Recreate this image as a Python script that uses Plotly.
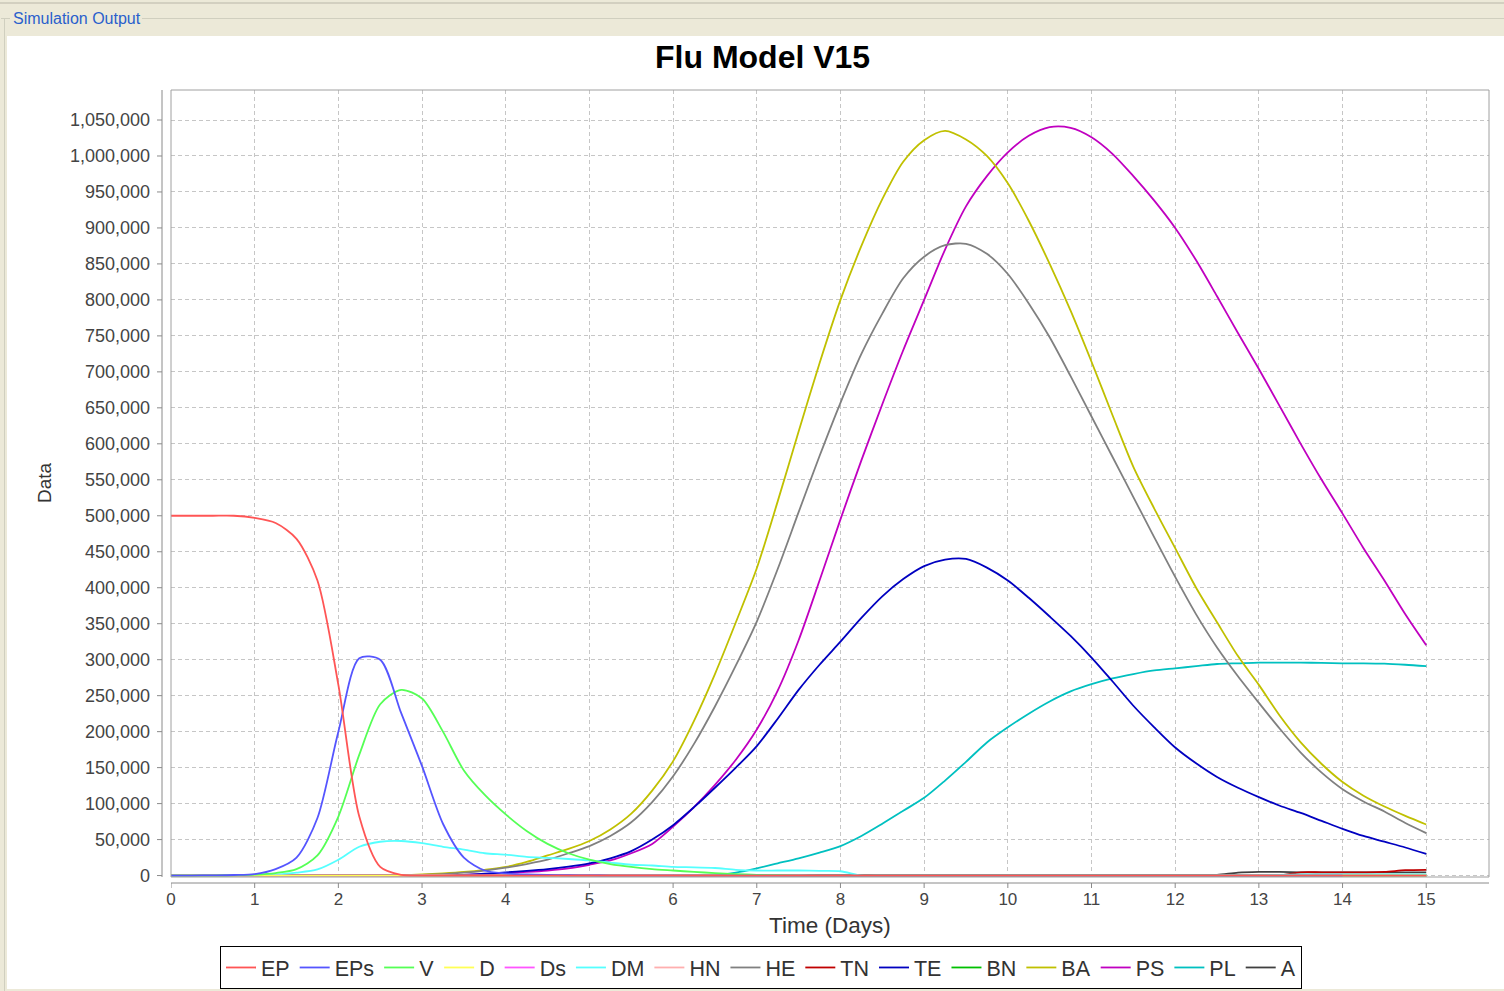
import plotly.graph_objects as go

# Simulation output sampled every quarter day (days 0..15)
time_days = [round(0.25 * i, 2) for i in range(61)]

# Values per series, one row per day (t = d, d+0.25, d+0.5, d+0.75), last entry is day 15
EP = [500000, 500000, 500000, 500000,
      497000, 490000, 468000, 410000,
      265000, 82000, 12000, 1000,
      0, 0, 0, 0,  0, 0, 0, 0,  0, 0, 0, 0,  0, 0, 0, 0,
      0, 0, 0, 0,  0, 0, 0, 0,  0, 0, 0, 0,  0, 0, 0, 0,
      0, 0, 0, 0,  0, 0, 0, 0,  0, 0, 0, 0,  0, 0, 0, 0,
      0]
EPs = [0, 0, 300, 800,
       2000, 9000, 25000, 80000,
       200000, 302000, 300000, 226000,
       152000, 72000, 25000, 7000,
       3000, 1500, 800, 400,
       200, 0, 0, 0,
       0, 0, 0, 0,  0, 0, 0, 0,  0, 0, 0, 0,  0, 0, 0, 0,
       0, 0, 0, 0,  0, 0, 0, 0,  0, 0, 0, 0,  0, 0, 0, 0,
       0]
V = [0, 0, 0, 300,
     1200, 3500, 9000, 28000,
     82000, 168000, 238000, 258000,
     246000, 200000, 146000, 112000,
     85000, 62000, 44000, 31000,
     22000, 16000, 12000, 9000,
     7000, 5000, 3500, 2000,
     1000, 500, 0, 0,
     0, 0, 0, 0,  0, 0, 0, 0,  0, 0, 0, 0,  0, 0, 0, 0,
     0, 0, 0, 0,  0, 0, 0, 0,  0, 0, 0, 0,
     0]
D = [0, 0, 0, 0,  0, 0, 0, 0,  0, 0, 0, 0,  0, 0, 0, 0,  0, 0, 0, 0,
     0, 0, 0, 0,  0, 0, 0, 0,  0, 0, 0, 0,  0, 0, 0, 0,  0, 0, 0, 0,
     0, 0, 0, 0,  0, 0, 0, 0,  0, 0, 0, 0,  0, 0, 0, 0,  0, 0, 0, 0,
     0]
Ds = [0, 0, 0, 0,  0, 0, 0, 0,  0, 0, 0, 0,  0, 0, 0, 0,  0, 0, 0, 0,
      0, 0, 0, 0,  0, 0, 0, 0,  0, 0, 0, 0,  0, 0, 0, 0,  0, 0, 0, 0,
      0, 0, 0, 0,  0, 0, 0, 0,  0, 0, 0, 0,  0, 0, 0, 0,  0, 0, 0, 0,
      0]
DM = [0, 0, 0, 0,
      400, 1500, 4000, 8500,
      22000, 40000, 47000, 48000,
      45000, 40000, 36000, 31000,
      29000, 26000, 24500, 23000,
      21000, 18000, 15000, 14000,
      12000, 11500, 10500, 8000,
      7000, 7000, 7000, 6500,
      6000, 0, 0, 0,
      0, 0, 0, 0,  0, 0, 0, 0,  0, 0, 0, 0,  0, 0, 0, 0,
      0, 1000, 1500, 1500,
      1500, 1500, 1500, 1500,
      1500]
HN = [0, 0, 0, 0,  0, 0, 0, 0,  0, 0, 0, 0,  0, 0, 0, 0,  0, 0, 0, 0,
      0, 0, 0, 0,  0, 0, 0, 0,  0, 0, 0, 0,  0, 0, 0, 0,  0, 0, 0, 0,
      0, 0, 0, 0,  0, 0, 0, 0,  0, 0, 0, 0,  0, 0, 0, 0,  0, 0, 0, 0,
      0]
HE = [0, 0, 0, 0,
      0, 0, 0, 0,
      0, 0, 0, 500,
      1000, 2000, 4000, 7000,
      11000, 16000, 22000, 31000,
      41000, 55000, 74000, 102000,
      138000, 183000, 235000, 292000,
      353000, 426000, 505000, 583000,
      657000, 725000, 781000, 830000,
      860000, 876000, 878000, 864000,
      836000, 795000, 748000, 694000,
      638000, 582000, 526000, 470000,
      415000, 363000, 317000, 277000,
      240000, 204000, 171000, 143000,
      120000, 103000, 89000, 73000,
      59000]
TN = [0, 0, 0, 0,  0, 0, 0, 0,  0, 0, 0, 0,  0, 0, 0, 0,  0, 0, 0, 0,
      0, 0, 0, 0,  0, 0, 0, 0,  0, 0, 0, 0,  0, 0, 0, 0,  0, 0, 0, 0,
      0, 0, 0, 0,  0, 0, 0, 0,  0, 0, 0, 0,
      0, 0, 4500, 4500,
      4500, 4500, 5000, 7500,
      8000]
TE = [0, 0, 0, 0,  0, 0, 0, 0,  0, 0, 0, 0,
      0, 0, 1000, 2500,
      4500, 6500, 9000, 12500,
      17000, 24000, 34000, 50000,
      70000, 95000, 122000, 150000,
      180000, 218000, 258000, 293000,
      325000, 358000, 388000, 412000,
      430000, 439000, 440000, 428000,
      410000, 386000, 360000, 333000,
      303000, 270000, 236000, 206000,
      178000, 156000, 137000, 122000,
      109000, 97000, 87000, 76000,
      65000, 55000, 47000, 39000,
      30000]
BN = [0, 0, 0, 0,  0, 0, 0, 0,  0, 0, 0, 0,  0, 0, 0, 0,  0, 0, 0, 0,
      0, 0, 0, 0,  0, 0, 0, 0,  0, 0, 0, 0,  0, 0, 0, 0,  0, 0, 0, 0,
      0, 0, 0, 0,  0, 0, 0, 0,  0, 0, 0, 0,  0, 0, 0, 0,  0, 0, 0, 0,
      0]
BA = [0, 0, 0, 0,
      0, 0, 0, 0,
      0, 0, 0, 500,
      1500, 3000, 5000, 8000,
      12000, 19000, 28000, 37000,
      48000, 64000, 86000, 118000,
      159000, 215000, 280000, 352000,
      427000, 520000, 617000, 712000,
      800000, 875000, 940000, 992000,
      1022000, 1035000, 1023000, 1000000,
      962000, 910000, 850000, 785000,
      714000, 640000, 568000, 510000,
      455000, 400000, 352000, 305000,
      265000, 222000, 185000, 155000,
      130000, 111000, 96000, 83000,
      71000]
PS = [0, 0, 0, 0,  0, 0, 0, 0,  0, 0, 0, 0,
      0, 0, 1000, 2000,
      3500, 5000, 7000, 10000,
      15000, 21000, 31000, 44000,
      68000, 95000, 126000, 161000,
      203000, 257000, 327000, 410000,
      495000, 577000, 655000, 730000,
      800000, 870000, 930000, 972000,
      1005000, 1028000, 1040000, 1039000,
      1026000, 1003000, 972000, 938000,
      900000, 855000, 805000, 754000,
      704000, 652000, 600000, 550000,
      503000, 455000, 410000, 363000,
      320000]
PL = [0, 0, 0, 0,  0, 0, 0, 0,  0, 0, 0, 0,  0, 0, 0, 0,  0, 0, 0, 0,  0, 0, 0, 0,
      0, 0, 0, 4000,
      10000, 17000, 24000, 32000,
      41000, 55000, 72000, 90000,
      108000, 132000, 158000, 185000,
      206000, 225000, 242000, 256000,
      266000, 274000, 280000, 285000,
      288000, 291000, 294000, 295000,
      296000, 296000, 296000, 295500,
      295000, 295000, 294500, 293000,
      291000]
A = [0, 0, 0, 0,  0, 0, 0, 0,  0, 0, 0, 0,  0, 0, 0, 0,  0, 0, 0, 0,
     0, 0, 0, 0,  0, 0, 0, 0,
     0, 0, 0, 1000,
     1000, 1000, 1000, 1000,
     1000, 1000, 1000, 1000,
     1000, 1000, 1000, 1000,
     1000, 1000, 1000, 1000,
     1000, 1000, 1000, 4000,
     5000, 5000, 4500, 4500,
     4500, 4500, 4500, 4500,
     4500]

series_names = ["EP", "EPs", "V", "D", "Ds", "DM", "HN", "HE",
                "TN", "TE", "BN", "BA", "PS", "PL", "A"]
series_values = [EP, EPs, V, D, Ds, DM, HN, HE, TN, TE, BN, BA, PS, PL, A]
series_colors = ["#FF5555", "#5555FF", "#55FF55", "#FFFF55", "#FF55FF",
                 "#55FFFF", "#FFAFAF", "#808080", "#C00000", "#0000C0",
                 "#00C000", "#C0C000", "#C000C0", "#00C0C0", "#404040"]

x_ticks = list(range(0, 16))
y_ticks = list(range(0, 1050001, 50000))

FONT = "Liberation Sans, Arial, sans-serif"
W, H = 1504, 991
PLOT_L, PLOT_R, PLOT_T, PLOT_B = 171, 1489, 90, 877


def px_x(px):
    return (px - PLOT_L) / (PLOT_R - PLOT_L)


def px_y(py):
    return (PLOT_B - py) / (PLOT_B - PLOT_T)


fig = go.Figure()

# first series is drawn last so it sits on top
for i in reversed(range(len(series_names))):
    fig.add_trace(go.Scatter(
        x=time_days, y=series_values[i], mode="lines", name=series_names[i],
        line=dict(color=series_colors[i], width=1.8, shape="spline", smoothing=0.8),
        legendrank=i + 1, hoverinfo="x+y+name",
    ))

shapes = []
beige = "#ECE9D8"
# window chrome around the chart panel
shapes.append(dict(type="rect", xref="paper", yref="paper", layer="below",
                   x0=px_x(0), x1=px_x(W), y0=px_y(0), y1=px_y(36),
                   fillcolor=beige, line=dict(width=0)))
shapes.append(dict(type="rect", xref="paper", yref="paper", layer="below",
                   x0=px_x(0), x1=px_x(7), y0=px_y(0), y1=px_y(H),
                   fillcolor=beige, line=dict(width=0)))
shapes.append(dict(type="rect", xref="paper", yref="paper", layer="below",
                   x0=px_x(0), x1=px_x(W), y0=px_y(989), y1=px_y(H),
                   fillcolor=beige, line=dict(width=0)))
shapes.append(dict(type="line", xref="paper", yref="paper",
                   x0=px_x(0), x1=px_x(W), y0=px_y(3), y1=px_y(3),
                   line=dict(color="#B9B6A8", width=1)))
for (a, b) in [(1, 10), (142, W)]:
    shapes.append(dict(type="line", xref="paper", yref="paper",
                       x0=px_x(a), x1=px_x(b), y0=px_y(18.5), y1=px_y(18.5),
                       line=dict(color="#D0CFBF", width=1)))
shapes.append(dict(type="line", xref="paper", yref="paper",
                   x0=px_x(4.5), x1=px_x(4.5), y0=px_y(18.5), y1=px_y(H),
                   line=dict(color="#D0CFBF", width=1)))

# plot outline
shapes.append(dict(type="rect", xref="paper", yref="paper",
                   x0=0, x1=1, y0=0, y1=1, line=dict(color="#A0A0A0", width=1)))

# offset axis lines with tick marks
axis_col = "#8A8A8A"
shapes.append(dict(type="line", xref="paper", yref="paper",
                   x0=px_x(162), x1=px_x(162), y0=0, y1=1,
                   line=dict(color=axis_col, width=1)))
shapes.append(dict(type="line", xref="paper", yref="paper",
                   x0=0, x1=1, y0=px_y(883), y1=px_y(883),
                   line=dict(color=axis_col, width=1)))
for v in y_ticks:
    shapes.append(dict(type="line", xref="paper", yref="y",
                       x0=px_x(157), x1=px_x(162), y0=v, y1=v,
                       line=dict(color=axis_col, width=1)))
for v in x_ticks:
    shapes.append(dict(type="line", xref="x", yref="paper",
                       x0=v, x1=v, y0=px_y(883), y1=px_y(888),
                       line=dict(color=axis_col, width=1)))

annotations = [
    dict(text="Simulation Output", xref="paper", yref="paper",
         x=px_x(11), y=px_y(19), xanchor="left", yanchor="middle", showarrow=False,
         font=dict(family=FONT, size=16, color="#2A5FCC")),
    dict(text="Flu Model V15", xref="paper", yref="paper",
         x=px_x(762), y=px_y(57), xanchor="center", yanchor="middle", showarrow=False,
         font=dict(family=FONT, size=32, color="#000000", weight="bold")),
    dict(text="Time (Days)", xref="paper", yref="paper",
         x=px_x(829.5), y=px_y(926), xanchor="center", yanchor="middle", showarrow=False,
         font=dict(family=FONT, size=22.5, color="#333333")),
    dict(text="Data", xref="paper", yref="paper", textangle=-90,
         x=px_x(44), y=px_y(483), xanchor="center", yanchor="middle", showarrow=False,
         font=dict(family=FONT, size=19, color="#333333")),
]

grid = dict(showgrid=True, gridcolor="#C6C6C6", gridwidth=1, griddash="4px,3px",
            zeroline=False, showline=False, ticks="")

fig.update_layout(
    width=W, height=H,
    margin=dict(l=PLOT_L, r=W - PLOT_R, t=PLOT_T, b=H - PLOT_B, autoexpand=False),
    paper_bgcolor="#FFFFFF", plot_bgcolor="#FFFFFF",
    font=dict(family=FONT, color="#333333"),
    xaxis=dict(range=[0, 15.75], tickvals=x_ticks, ticklabelstandoff=10,
               tickfont=dict(family=FONT, size=17, color="#444444"), **grid),
    yaxis=dict(range=[-2000, 1091700], tickvals=y_ticks, tickformat=",d",
               ticklabelstandoff=20,
               tickfont=dict(family=FONT, size=18, color="#444444"), **grid),
    showlegend=True,
    legend=dict(orientation="h", x=px_x(761), xanchor="center",
                y=px_y(946), yanchor="top",
                bgcolor="#FFFFFF", bordercolor="#000000", borderwidth=1,
                font=dict(family=FONT, size=21.5, color="#333333"),
                traceorder="normal"),
    shapes=shapes, annotations=annotations,
)

fig.write_html("out.html")
